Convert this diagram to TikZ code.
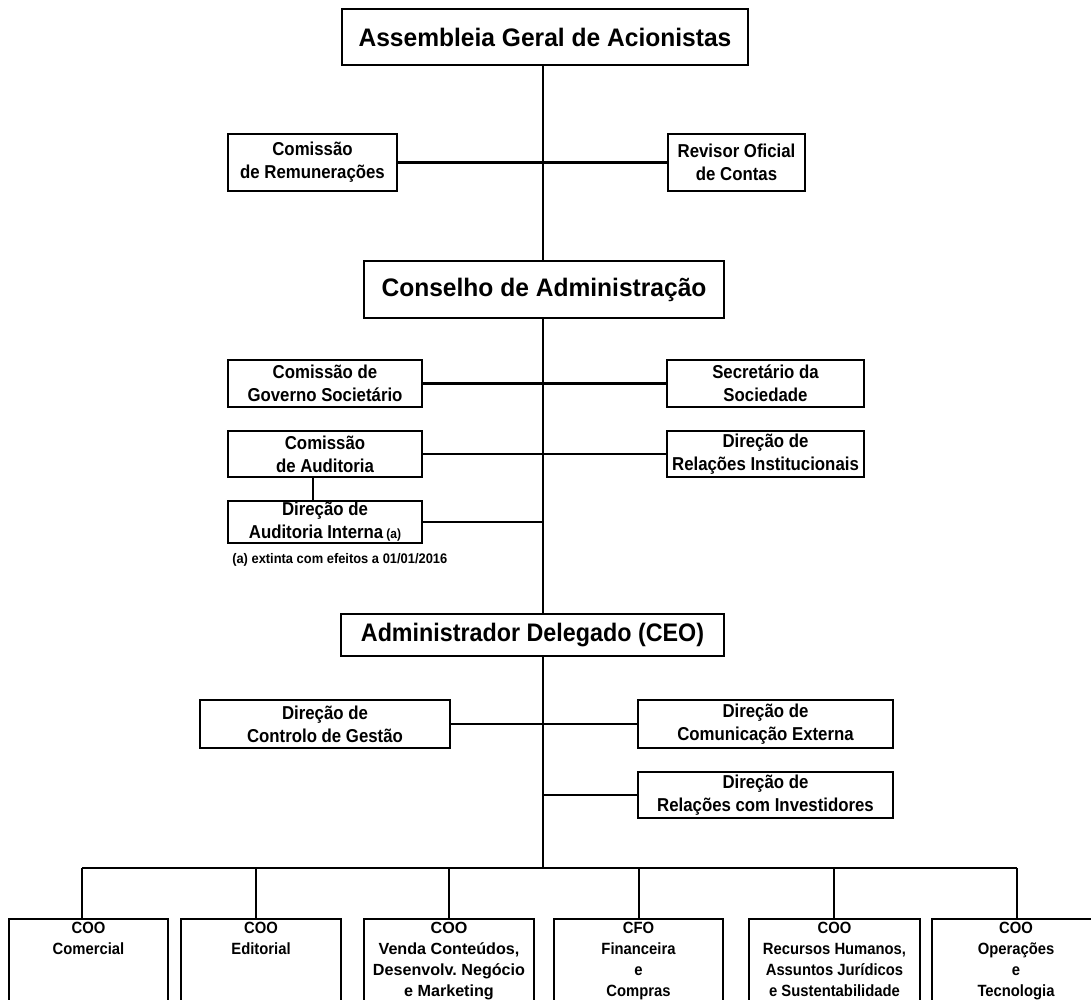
\documentclass[tikz,border=0pt]{standalone}
\usepackage{fontspec}
\setmainfont{Liberation Sans}
\newfontfamily\fnar{Liberation Sans}[FakeStretch=0.9]
\newfontfamily\fbig{Liberation Sans}[FakeStretch=0.97]
\newfontfamily\fceo{Liberation Sans}[FakeStretch=0.92]
\newfontfamily\fbot{Liberation Sans}[FakeStretch=0.91]
\newfontfamily\fbotw{Liberation Sans}[FakeStretch=1.0]
\newfontfamily\fnote{Liberation Sans}[FakeStretch=0.93]
\frenchspacing
\begin{document}
\begin{tikzpicture}[x=0.75pt,y=-0.75pt,
  box/.style={draw, line width=1.8pt, fill=white, inner sep=0pt, align=center,
    font=\fnar\bfseries\fontsize{14}{17.25}\selectfont},
  sz/.style 2 args={minimum width=#1*0.75pt, minimum height=#2*0.75pt},
  bigtxt/.style={font=\fbig\bfseries\fontsize{19}{22}\selectfont},
  ceotxt/.style={font=\fceo\bfseries\fontsize{19}{22}\selectfont},
  blbl/.style={anchor=north, align=center, inner sep=0pt, yshift=-2.6pt,
    font=\fbot\bfseries\fontsize{12.2}{15.8}\selectfont},
  blblw/.style={blbl, font=\fbotw\bfseries\fontsize{12.1}{15.8}\selectfont},
  ln/.style={line width=1.6pt}]
\useasboundingbox (0,0) rectangle (1091,999);
\clip (0,0) rectangle (1091,999);
\fill[white] (0,0) rectangle (1091,999);

% helper coordinates
\coordinate (tx) at (543,0);
\coordinate (vx) at (313,0);
\coordinate (busL) at (82,868);
\coordinate (busR) at (1017,868);
\coordinate (d2) at (256,868);
\coordinate (d3) at (449,868);
\coordinate (d4) at (639,868);
\coordinate (d5) at (834,868);

% top levels
\node[box, sz={406}{56}, bigtxt] (asm) at (545,37) {Assembleia Geral de Acionistas};
\node[box, sz={169}{57}] (rem) at (312.5,162.5) {Comissão\\de Remunerações};
\node[box, sz={137}{57}] (rev) at (736.5,162.5) {Revisor Oficial\\de Contas};
\node[box, sz={360}{57}, bigtxt] (cons) at (544,289.5) {Conselho de Administração};

\node[box, sz={194}{47}] (gov) at (325,383.5) {Comissão de\\Governo Societário};
\node[box, sz={197}{47}] (sec) at (765.5,383.5) {Secretário da\\Sociedade};
\node[box, sz={194}{46}] (cau) at (325,454) {Comissão\\de Auditoria};
\node[box, sz={197}{46}] (rel) at (765.5,454) {Direção de\\Relações Institucionais};
\node[box, sz={194}{42}] (dai) at (325,522) {Direção de\\Auditoria Interna\,{\fontsize{10}{12}\selectfont(a)}};
\node[anchor=west, inner sep=0pt, font=\fnote\bfseries\fontsize{10.4}{12}\selectfont] (fn) at (232,560) {(a) extinta com efeitos a 01/01/2016};

\node[box, sz={383}{42}, ceotxt] (ceo) at (532.5,635) {Administrador Delegado (CEO)};
\node[box, sz={250}{48}] (ctl) at (325,724) {Direção de\\Controlo de Gestão};
\node[box, sz={255}{48}] (cex) at (765.5,724) {Direção de\\Comunicação Externa};
\node[box, sz={255}{46}] (inv) at (765.5,795) {Direção de\\Relações com Investidores};

% bottom boxes
\node[box, sz={159}{100}, anchor=north, label={[blbl]north:{COO\\Comercial}}] (b1) at (88.5,918) {};
\node[box, sz={160}{100}, anchor=north, label={[blbl]north:{COO\\Editorial}}] (b2) at (261,918) {};
\node[box, sz={170}{100}, anchor=north, label={[blblw]north:{COO\\Venda Conteúdos,\\Desenvolv. Negócio\\e Marketing}}] (b3) at (449,918) {};
\node[box, sz={169}{100}, anchor=north, label={[blbl]north:{CFO\\Financeira\\e\\Compras}}] (b4) at (638.5,918) {};
\node[box, sz={171}{100}, anchor=north, label={[blbl]north:{COO\\Recursos Humanos,\\ Assuntos Jurídicos\\e Sustentabilidade}}] (b5) at (834.5,918) {};
\node[box, sz={168}{100}, anchor=north, label={[blbl]north:{COO\\Operações\\e\\Tecnologia}}] (b6) at (1016,918) {};

% trunk
\draw[ln] (asm.south -| tx) -- (cons.north -| tx);
\draw[ln] (cons.south -| tx) -- (ceo.north -| tx);
\draw[ln] (ceo.south -| tx) -- (tx |- busL);

% side branches
\draw[ln] (rem) -- (rev);
\draw[ln] (gov) -- (sec);
\draw[ln] (cau) -- (rel);
\draw[ln] (cau.south -| vx) -- (dai.north -| vx);
\draw[ln] (dai.east) -- (dai.east -| tx);
\draw[ln] (ctl) -- (cex);
\draw[ln] (inv.west) -- (inv.west -| tx);

% bus and drops
\draw[ln] (busL) -- (busR);
\draw[ln] (busL) -- (busL |- b1.north);
\draw[ln] (d2) -- (d2 |- b2.north);
\draw[ln] (d3) -- (d3 |- b3.north);
\draw[ln] (d4) -- (d4 |- b4.north);
\draw[ln] (d5) -- (d5 |- b5.north);
\draw[ln] (busR) -- (busR |- b6.north);
\end{tikzpicture}
\end{document}
